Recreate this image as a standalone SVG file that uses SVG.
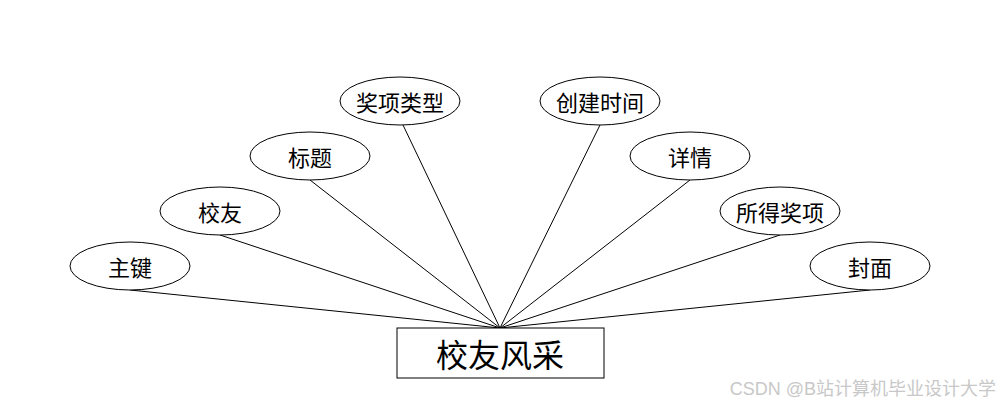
<svg xmlns="http://www.w3.org/2000/svg" width="1000" height="408" viewBox="0 0 1000 408">
<style>
.attr ellipse{fill:#fff;stroke:#000;stroke-width:1}
.lbl{font-family:"Noto Sans CJK SC","Liberation Sans",sans-serif;font-size:22px;fill:#000;text-anchor:middle;dominant-baseline:central}
.conn line{stroke:#000;stroke-width:1}
</style>
<rect width="1000" height="408" fill="#fff"/>
<g id="connectors" class="conn">
<line x1="130" y1="290" x2="500" y2="328"/>
<line x1="220" y1="235" x2="500" y2="328"/>
<line x1="310" y1="180" x2="500" y2="328"/>
<line x1="403" y1="125" x2="500" y2="328"/>
<line x1="600" y1="125" x2="500" y2="328"/>
<line x1="690" y1="180" x2="500" y2="328"/>
<line x1="780" y1="235" x2="500" y2="328"/>
<line x1="870" y1="290" x2="500" y2="328"/>
</g>
<g id="entity"><rect x="397" y="328" width="207" height="50" fill="#fff" stroke="#000"/><text class="lbl" x="500" y="353" style="font-size:32px">校友风采</text></g>
<g id="a1" class="attr"><ellipse cx="130" cy="266" rx="60" ry="24"/><text class="lbl" x="130" y="266">主键</text></g>
<g id="a2" class="attr"><ellipse cx="220" cy="211" rx="60" ry="24"/><text class="lbl" x="220" y="211">校友</text></g>
<g id="a3" class="attr"><ellipse cx="310" cy="156" rx="60" ry="24"/><text class="lbl" x="310" y="156">标题</text></g>
<g id="a4" class="attr"><ellipse cx="400" cy="101" rx="60" ry="24"/><text class="lbl" x="400" y="101">奖项类型</text></g>
<g id="a5" class="attr"><ellipse cx="600" cy="101" rx="60" ry="24"/><text class="lbl" x="600" y="101">创建时间</text></g>
<g id="a6" class="attr"><ellipse cx="690" cy="156" rx="60" ry="24"/><text class="lbl" x="690" y="156">详情</text></g>
<g id="a7" class="attr"><ellipse cx="780" cy="211" rx="60" ry="24"/><text class="lbl" x="780" y="211">所得奖项</text></g>
<g id="a8" class="attr"><ellipse cx="870" cy="266" rx="60" ry="24"/><text class="lbl" x="870" y="266">封面</text></g>
<text x="996" y="389" font-family="'Liberation Sans','Noto Sans CJK SC',sans-serif" font-size="18" fill="#c8c8c8" text-anchor="end" dominant-baseline="central">CSDN @B站计算机毕业设计大学</text>
</svg>
